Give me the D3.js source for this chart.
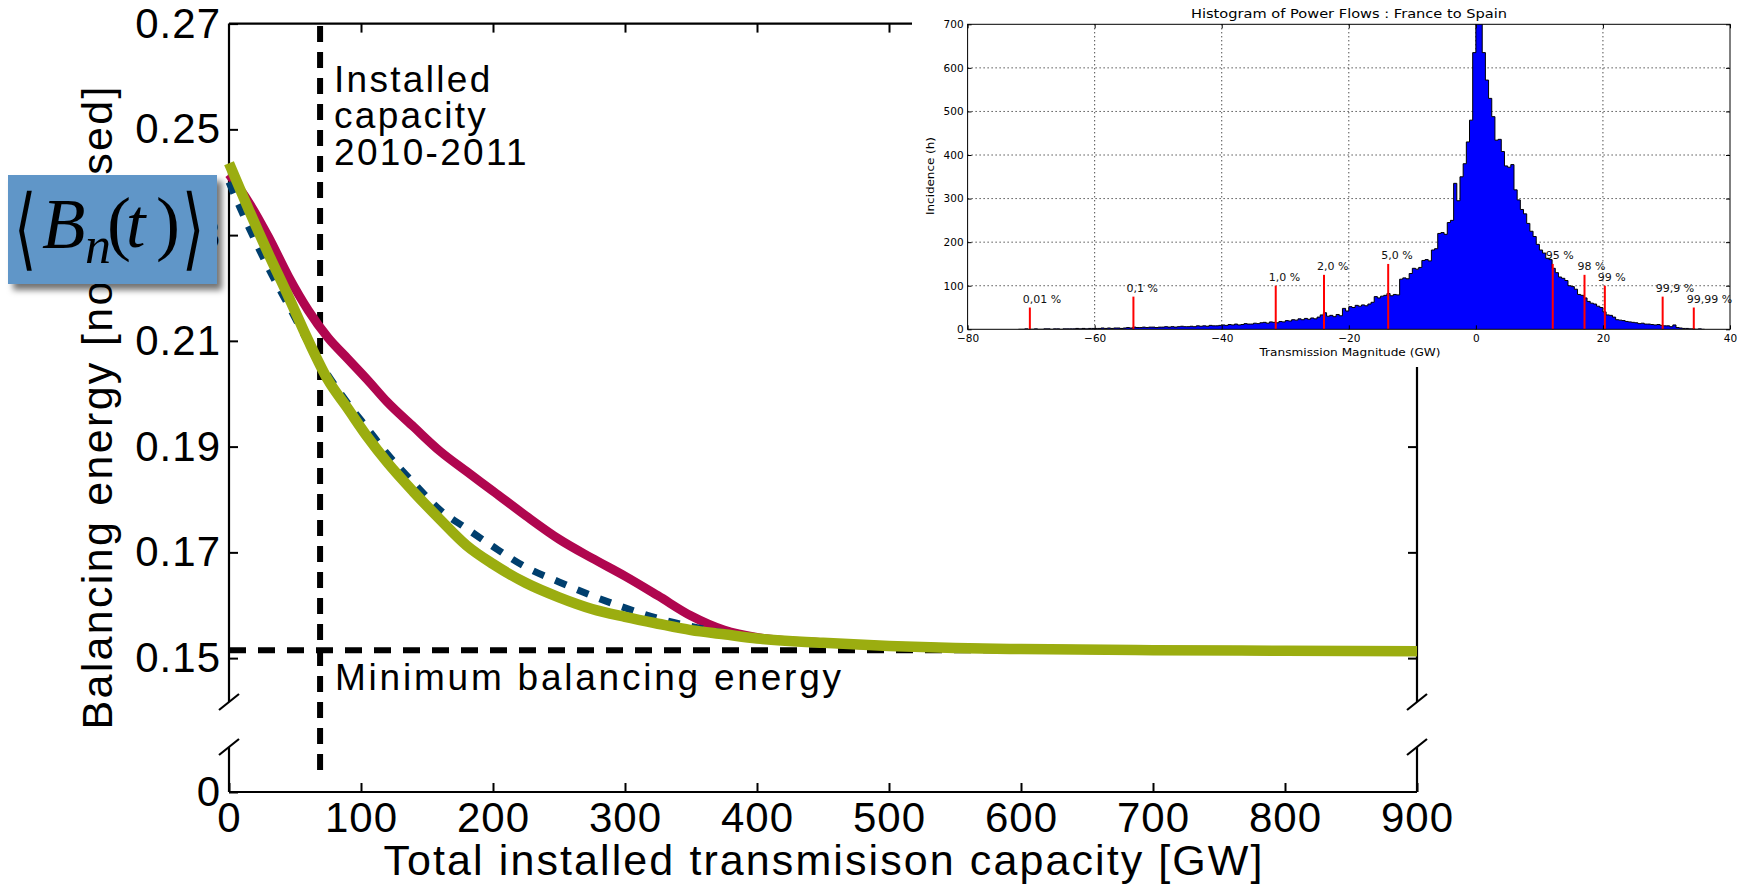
<!DOCTYPE html>
<html>
<head>
<meta charset="utf-8">
<script src="https://cdn.jsdelivr.net/npm/d3@7"></script>
<style>
  body { margin: 0; background: #fff; }
  svg { display: block; }
</style>
</head>
<body>
<svg id="chart" width="1748" height="887"></svg>
<script>
// ---- main chart data ----
var capacity = [0, 15, 30, 45, 60, 75, 90, 105, 120, 140, 160, 180, 200, 225, 250, 275, 300, 325, 350, 375, 400, 450, 500, 550, 600, 700, 800, 900];
var balRed   = [0.2415, 0.2362, 0.2296, 0.2222, 0.2158, 0.2106, 0.2066, 0.2026, 0.1984, 0.1937, 0.1891, 0.1853, 0.1816, 0.1769, 0.1725, 0.1689, 0.1655, 0.1618, 0.1580, 0.1553, 0.1539, 0.1529, 0.1523, 0.1519, 0.1517, 0.1515, 0.1514, 0.1513];
var balBlue  = [0.2400, 0.2315, 0.2237, 0.2167, 0.2097, 0.2035, 0.1982, 0.1934, 0.1886, 0.1831, 0.1780, 0.1745, 0.1711, 0.1672, 0.1644, 0.1618, 0.1595, 0.1575, 0.1560, 0.1548, 0.1538, 0.1529, 0.1523, 0.1519, 0.1517, 0.1515, 0.1514, 0.1513];
var balGreen = [0.2436, 0.2348, 0.2264, 0.2184, 0.2101, 0.2026, 0.1972, 0.1918, 0.1870, 0.1814, 0.1762, 0.1713, 0.1678, 0.1642, 0.1615, 0.1593, 0.1578, 0.1565, 0.1553, 0.1545, 0.1537, 0.1529, 0.1523, 0.1519, 0.1517, 0.1515, 0.1514, 0.1513];
var installedCap = 69;      // GW, 2010-2011
var minBalancing = 0.1515;
var xTicks = [0, 100, 200, 300, 400, 500, 600, 700, 800, 900];
var yTicks = [0.15, 0.17, 0.19, 0.21, 0.23, 0.25, 0.27];

// ---- inset histogram data ----
var flowStart = -72, flowBinWidth = 0.5;
var flowCounts = [
  0,0,1,0,0,1,0,0,1,1,0,1,1,0,1,1,1,1,2,1,2,1,2,2,          // -72 .. -60
  2,2,3,2,3,2,3,3,2,3,                                      // -60 .. -55
  4,3,5,4,4,5,4,5,5,4,                                      // -55 .. -50
  5,5,6,5,6,5,6,7,6,6,                                      // -50 .. -45
  7,6,8,7,8,7,9,8,8,9,                                      // -45 .. -40
  10,9,11,10,12,10,11,13,12,12,                             // -40 .. -35
  14,13,15,16,14,17,16,15,18,17,                            // -35 .. -30
  20,19,22,21,24,22,25,23,26,24,                            // -30 .. -25
  28,33,38,30,32,29,34,31,48,42,                            // -25 .. -20
  52,50,55,53,56,54,58,62,75,72,                            // -20 .. -15
  76,78,82,77,80,79,115,118,116,128,                        // -15 .. -10
  140,138,142,158,160,157,182,185,220,222,                  // -10 .. -5
  218,245,250,335,295,350,380,430,480,635,                  //  -5 .. 0
  725,720,635,572,530,488,434,436,408,375,                  //   0 .. 5
  372,378,320,297,275,265,243,225,213,195,                  //   5 .. 10
  182,175,163,160,140,130,120,117,112,100,                  //  10 .. 15
  98,92,80,78,72,64,60,58,53,50,                            //  15 .. 20
  40,33,32,28,22,21,20,18,17,16,                            //  20 .. 25
  15,13,14,12,12,11,10,11,9,8,                              //  25 .. 30
  8,6,10,4,3,2,2,1,1,0,1,0                                  //  30 .. 36
];
var pctLabels = ["0,01 %", "0,1 %", "1,0 %", "2,0 %", "5,0 %", "95 %", "98 %", "99 %", "99,9 %", "99,99 %"];
var pctFlow   = [-70.2, -53.9, -31.5, -23.9, -13.8, 12.1, 17.1, 20.3, 29.4, 34.3];
var pctHeight = [50, 75, 100, 125, 150, 150, 125, 100, 75, 50];
var histXTicks = [-80, -60, -40, -20, 0, 20, 40];
var histYTicks = [0, 100, 200, 300, 400, 500, 600, 700];

var svg = d3.select("#chart");
var font = "'Liberation Sans', Arial, Helvetica, sans-serif";

var defs = svg.append("defs");
defs.append("filter").attr("id", "shadow")
    .attr("x", "-10%").attr("y", "-10%").attr("width", "130%").attr("height", "140%")
  .append("feDropShadow")
    .attr("dx", 5).attr("dy", 6).attr("stdDeviation", 3)
    .attr("flood-color", "#000").attr("flood-opacity", 0.55);

// scales: upper band of the broken y axis and a tiny lower band holding 0
var x = d3.scaleLinear().domain([0, 900]).range([229, 1417]);
var y = d3.scaleLinear().domain([0.1417, 0.27]).range([702, 23.6]);
var yLow = d3.scaleLinear().domain([0, 0.001]).range([792, 747]);

var plotLeft = x.range()[0], plotRight = x.range()[1];
var plotTop = y.range()[1], plotBottom = yLow.range()[0];

// axis frame pieces
var frame = svg.append("g").attr("stroke", "#000").attr("stroke-width", 2.2).attr("fill", "none");
[plotLeft, plotRight].forEach(function(ax){
    frame.append("line").attr("x1", ax).attr("x2", ax).attr("y1", plotTop).attr("y2", y.range()[0]);
    frame.append("line").attr("x1", ax).attr("x2", ax).attr("y1", yLow.range()[1]).attr("y2", plotBottom);
    // break marks
    [y.range()[0], yLow.range()[1]].forEach(function(by){
        frame.append("line").attr("x1", ax - 10).attr("y1", by + 8).attr("x2", ax + 10).attr("y2", by - 8);
    });
});
frame.append("line").attr("x1", plotLeft).attr("x2", plotRight).attr("y1", plotTop).attr("y2", plotTop);
frame.append("line").attr("x1", plotLeft).attr("x2", plotRight).attr("y1", plotBottom).attr("y2", plotBottom);

function styleAxis(g, size){
    g.select(".domain").remove();
    g.selectAll(".tick line").attr("stroke", "#000").attr("stroke-width", 2);
    g.selectAll(".tick text").attr("font-family", font).attr("font-size", size).attr("fill", "#000");
}

svg.append("g").attr("transform", "translate(0," + plotBottom + ")")
    .call(d3.axisBottom(x).tickValues(xTicks).tickSize(-9).tickPadding(10))
    .call(styleAxis, 42);
svg.append("g").attr("transform", "translate(0," + plotTop + ")")
    .call(d3.axisTop(x).tickValues(xTicks.slice(1, -1)).tickSize(-9).tickFormat(""))
    .call(styleAxis, 42);
svg.append("g").attr("transform", "translate(" + plotLeft + ",0)")
    .call(d3.axisLeft(y).tickValues(yTicks).tickSize(-9).tickPadding(8).tickFormat(d3.format(".2f")))
    .call(styleAxis, 42);
svg.append("g").attr("transform", "translate(" + plotLeft + ",0)")
    .call(d3.axisLeft(yLow).tickValues([0]).tickSize(-9).tickPadding(8).tickFormat(d3.format("d")))
    .call(styleAxis, 42);
svg.append("g").attr("transform", "translate(" + plotRight + ",0)")
    .call(d3.axisRight(y).tickValues(yTicks).tickSize(-9).tickFormat(""))
    .call(styleAxis, 42);
svg.selectAll(".tick text").attr("letter-spacing", 1);

// reference lines
svg.append("line")
    .attr("x1", x(installedCap)).attr("x2", x(installedCap)).attr("y1", 26).attr("y2", 777)
    .attr("stroke", "#000").attr("stroke-width", 6).attr("stroke-dasharray", "16,10");
svg.append("line")
    .attr("x1", plotLeft).attr("x2", plotRight).attr("y1", y(minBalancing)).attr("y2", y(minBalancing))
    .attr("stroke", "#000").attr("stroke-width", 6).attr("stroke-dasharray", "17,12");

// curves
var line = d3.line().curve(d3.curveMonotoneX)
    .x(function(d){ return x(d[0]); }).y(function(d){ return y(d[1]); });
function pairs(vals){ return capacity.map(function(c, i){ return [c, vals[i]]; }); }

svg.append("path").datum(pairs(balRed)).attr("d", line)
    .attr("fill", "none").attr("stroke", "#b0064f").attr("stroke-width", 9).attr("stroke-linejoin", "round");
svg.append("path").datum(pairs(balBlue)).attr("d", line)
    .attr("fill", "none").attr("stroke", "#003f6e").attr("stroke-width", 7).attr("stroke-dasharray", "12,12");
svg.append("path").datum(pairs(balGreen)).attr("d", line)
    .attr("fill", "none").attr("stroke", "#9bad10").attr("stroke-width", 10.5).attr("stroke-linejoin", "round");

// annotations
var inst = svg.append("text").attr("font-family", font).attr("font-size", 37).attr("letter-spacing", 2.3);
["Installed", "capacity", "2010-2011"].forEach(function(s, i){
    inst.append("tspan").attr("x", 334).attr("y", 91.7 + i * 36.7).text(s);
});
svg.append("text").attr("x", 335).attr("y", 690)
    .attr("font-family", font).attr("font-size", 37)
    .attr("textLength", 506).attr("lengthAdjust", "spacing")
    .text("Minimum balancing energy");

// axis titles
svg.append("text").attr("x", (plotLeft + plotRight) / 2).attr("y", 875)
    .attr("text-anchor", "middle").attr("font-family", font).attr("font-size", 43)
    .attr("textLength", 879).attr("lengthAdjust", "spacing")
    .text("Total installed transmisison capacity [GW]");
svg.append("text").attr("transform", "translate(112,408) rotate(-90)")
    .attr("text-anchor", "middle").attr("font-family", font).attr("font-size", 43)
    .attr("textLength", 643).attr("lengthAdjust", "spacing")
    .text("Balancing energy [normalised]");

// blue label box with <B_n(t)>
svg.append("rect").attr("x", 8).attr("y", 175).attr("width", 209).attr("height", 109)
    .attr("fill", "#6096c8").attr("filter", "url(#shadow)");
var math = svg.append("g").attr("font-family", "'Liberation Serif', 'Times New Roman', serif").attr("fill", "#000");
math.append("text").attr("transform", "translate(14,259) scale(0.65,1.02)")
    .attr("font-family", "'DejaVu Sans', sans-serif").attr("font-weight", 200)
    .attr("font-size", 88).text("\u27E8");
math.append("text").attr("x", 42).attr("y", 248).attr("font-size", 71).attr("font-style", "italic").text("B");
math.append("text").attr("x", 85).attr("y", 263).attr("font-size", 52).attr("font-style", "italic").text("n");
math.append("text").attr("x", 107).attr("y", 247).attr("font-size", 72).text("(");
math.append("text").attr("x", 126).attr("y", 247).attr("font-size", 70).attr("font-style", "italic").text("t");
math.append("text").attr("x", 156).attr("y", 247).attr("font-size", 72).text(")");
math.append("text").attr("transform", "translate(182,259) scale(0.65,1.02)")
    .attr("font-family", "'DejaVu Sans', sans-serif").attr("font-weight", 200)
    .attr("font-size", 88).text("\u27E9");

// ---- inset histogram ----
var hx = d3.scaleLinear().domain([-80, 40]).range([967.6, 1730]);
var hy = d3.scaleLinear().domain([0, 700]).range([329.3, 24.3]);
var hfont = "'DejaVu Sans', Verdana, sans-serif";

var inset = svg.append("g");
inset.append("rect").attr("x", 912).attr("y", 0).attr("width", 836).attr("height", 367).attr("fill", "#fff");

defs.append("clipPath").attr("id", "histclip").append("rect")
    .attr("x", hx.range()[0]).attr("y", hy.range()[1])
    .attr("width", hx.range()[1] - hx.range()[0]).attr("height", hy.range()[0] - hy.range()[1]);

// dotted grid
var grid = inset.append("g").attr("stroke", "#000").attr("stroke-width", 1).attr("stroke-dasharray", "1,3");
histXTicks.slice(1, -1).forEach(function(t){
    grid.append("line").attr("x1", hx(t)).attr("x2", hx(t)).attr("y1", hy.range()[0]).attr("y2", hy.range()[1]);
});
histYTicks.slice(1, -1).forEach(function(t){
    grid.append("line").attr("y1", hy(t)).attr("y2", hy(t)).attr("x1", hx.range()[0]).attr("x2", hx.range()[1]);
});

var flowPts = [{x: flowStart, c: 0}];
flowCounts.forEach(function(c, i){ flowPts.push({x: flowStart + i * flowBinWidth, c: c}); });
var flowEnd = flowStart + flowCounts.length * flowBinWidth;
flowPts.push({x: flowEnd, c: flowCounts[flowCounts.length - 1]});
flowPts.push({x: flowEnd, c: 0});

var hg = inset.append("g").attr("clip-path", "url(#histclip)");
hg.append("path").datum(flowPts)
    .attr("d", d3.area().curve(d3.curveStepAfter)
        .x(function(d){ return hx(d.x); }).y0(hy(0)).y1(function(d){ return hy(d.c); }))
    .attr("fill", "#0000ff");
hg.append("path").datum(flowPts)
    .attr("d", d3.line().curve(d3.curveStepAfter)
        .x(function(d){ return hx(d.x); }).y(function(d){ return hy(d.c); }))
    .attr("fill", "none").attr("stroke", "#000").attr("stroke-width", 1);

// percentile markers
pctFlow.forEach(function(f, i){
    inset.append("line").attr("x1", hx(f)).attr("x2", hx(f)).attr("y1", hy(0)).attr("y2", hy(pctHeight[i]))
        .attr("stroke", "#ff0000").attr("stroke-width", 2);
    inset.append("text").attr("x", hx(f) - 7).attr("y", hy(pctHeight[i]) - 5)
        .attr("font-family", hfont).attr("font-size", 11).attr("fill", "#111")
        .text(pctLabels[i]);
});

inset.append("rect").attr("x", hx.range()[0]).attr("y", hy.range()[1])
    .attr("width", hx.range()[1] - hx.range()[0]).attr("height", hy.range()[0] - hy.range()[1])
    .attr("fill", "none").attr("stroke", "#000").attr("stroke-width", 1);

function styleSmall(g){
    g.select(".domain").remove();
    g.selectAll(".tick line").attr("stroke", "#000");
    g.selectAll(".tick text").attr("font-family", hfont).attr("font-size", 10.5).attr("fill", "#000");
}
inset.append("g").attr("transform", "translate(0," + hy(0) + ")")
    .call(d3.axisBottom(hx).tickValues(histXTicks).tickSize(-4).tickPadding(5)).call(styleSmall);
inset.append("g").attr("transform", "translate(0," + hy(700) + ")")
    .call(d3.axisTop(hx).tickValues(histXTicks).tickSize(-4).tickFormat("")).call(styleSmall);
inset.append("g").attr("transform", "translate(" + hx(-80) + ",0)")
    .call(d3.axisLeft(hy).tickValues(histYTicks).tickSize(-4).tickPadding(4)).call(styleSmall);
inset.append("g").attr("transform", "translate(" + hx(40) + ",0)")
    .call(d3.axisRight(hy).tickValues(histYTicks).tickSize(-4).tickFormat("")).call(styleSmall);

inset.append("text").attr("x", 1349).attr("y", 17.5).attr("text-anchor", "middle")
    .attr("font-family", hfont).attr("font-size", 12)
    .attr("textLength", 316).attr("lengthAdjust", "spacingAndGlyphs")
    .text("Histogram of Power Flows : France to Spain");
inset.append("text").attr("x", 1350).attr("y", 355.5).attr("text-anchor", "middle")
    .attr("font-family", hfont).attr("font-size", 11)
    .attr("textLength", 181).attr("lengthAdjust", "spacingAndGlyphs")
    .text("Transmission Magnitude (GW)");
inset.append("text").attr("transform", "translate(934,176) rotate(-90)").attr("text-anchor", "middle")
    .attr("font-family", hfont).attr("font-size", 11)
    .attr("textLength", 78).attr("lengthAdjust", "spacingAndGlyphs")
    .text("Incidence (h)");
</script>
</body>
</html>
